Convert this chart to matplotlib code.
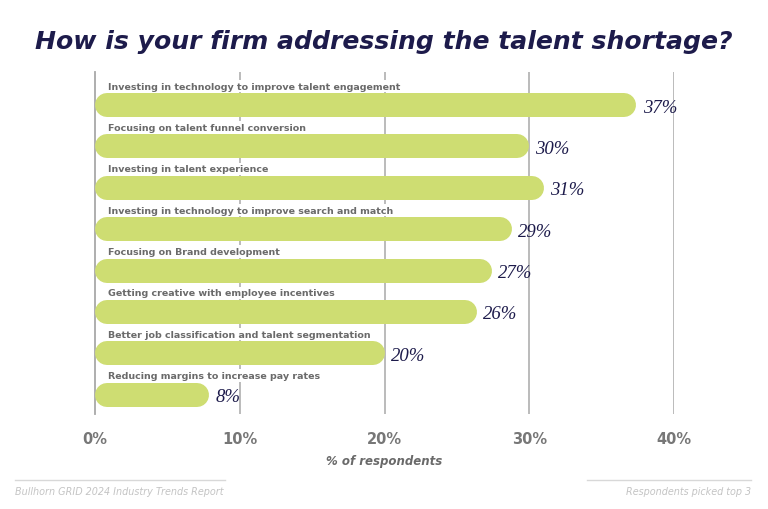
import matplotlib
matplotlib.use("Agg")
import matplotlib.pyplot as plt

# ── data ────────────────────────────────────────────────────
categories = [
    "Investing in technology to improve talent engagement",
    "Focusing on talent funnel conversion",
    "Investing in talent experience",
    "Investing in technology to improve search and match",
    "Focusing on Brand development",
    "Getting creative with employee incentives",
    "Better job classification and talent segmentation",
    "Reducing margins to increase pay rates",
]
values = [37.4, 30.0, 31.0, 28.8, 27.4, 26.4, 20.0, 7.9]
x_ticks = [0, 10, 20, 30, 40]
x_tick_labels = ["0%", "10%", "20%", "30%", "40%"]

# ── styles ──────────────────────────────────────────────────
BAR = "#cedd72"
NAVY = "#1d1b4b"
LABEL_GREY = "#6a6a6a"
TICK_GREY = "#777777"
GRID = "#a8a8a8"
FOOT = "#c4c4c4"

W, H = 768, 510
fig = plt.figure(figsize=(W / 100, H / 100), dpi=100)
ax_left, ax_right = 95 / W, 674 / W
ax_top, ax_bot = 1 - 73 / H, 1 - 415 / H
ax = fig.add_axes([ax_left, ax_bot, ax_right - ax_left, ax_top - ax_bot])

ax.set_xlim(0, 40)
ax.set_ylim(7.47, -0.80)

# rounded bars: thick lines with round caps, trimmed by the cap radius
px_per_unit = (ax_right - ax_left) * W / 40
bar_px = 24
r = (bar_px / 2) / px_per_unit
lw = bar_px * 72 / 100

for i, v in enumerate(values):
    ax.plot([r, v - r], [i, i], color=BAR, lw=lw, solid_capstyle="round",
            zorder=3)
    ax.annotate(f"{round(v)}%", (v, i), xytext=(4.5, -1.5),
                textcoords="offset points", ha="left", va="center",
                fontsize=13.5, style="italic", family="Liberation Serif",
                color=NAVY, zorder=4)
    ax.text(0.9, i - 0.46, categories[i], ha="left", va="center",
            fontsize=6.8, fontweight="bold", color=LABEL_GREY, zorder=4,
            bbox=dict(facecolor="white", edgecolor="none", pad=1.2))

for t in x_ticks[1:]:
    ax.axvline(t, color=GRID, lw=1.1, zorder=1)

for s in ["top", "right", "bottom"]:
    ax.spines[s].set_visible(False)
ax.spines["left"].set_color(GRID)
ax.spines["left"].set_linewidth(1.3)
ax.set_yticks([])
ax.set_xticks(x_ticks)
ax.set_xticklabels(x_tick_labels, fontsize=10.5, fontweight="bold",
                   color=TICK_GREY)
ax.tick_params(axis="x", length=0, pad=12)
ax.set_xlabel("% of respondents", fontsize=8.5, fontweight="bold",
              style="italic", color=LABEL_GREY, labelpad=6)

# ── title & footer ──────────────────────────────────────────
fig.text(0.5, 1 - 42 / H, "How is your firm addressing the talent shortage?",
         ha="center", va="center", fontsize=18.1, fontweight="bold",
         style="italic", color=NAVY)

fig.add_artist(plt.Line2D([15 / W, 225 / W], [1 - 481 / H] * 2,
                          color="#d8d8d8", lw=1))
fig.add_artist(plt.Line2D([587 / W, 751 / W], [1 - 481 / H] * 2,
                          color="#d8d8d8", lw=1))
fig.text(15 / W, 1 - 492 / H, "Bullhorn GRID 2024 Industry Trends Report",
         ha="left", va="center", fontsize=6.9, style="italic", color=FOOT)
fig.text(751 / W, 1 - 492 / H, "Respondents picked top 3",
         ha="right", va="center", fontsize=6.9, style="italic", color=FOOT)

fig.savefig("out.png", dpi=100)
